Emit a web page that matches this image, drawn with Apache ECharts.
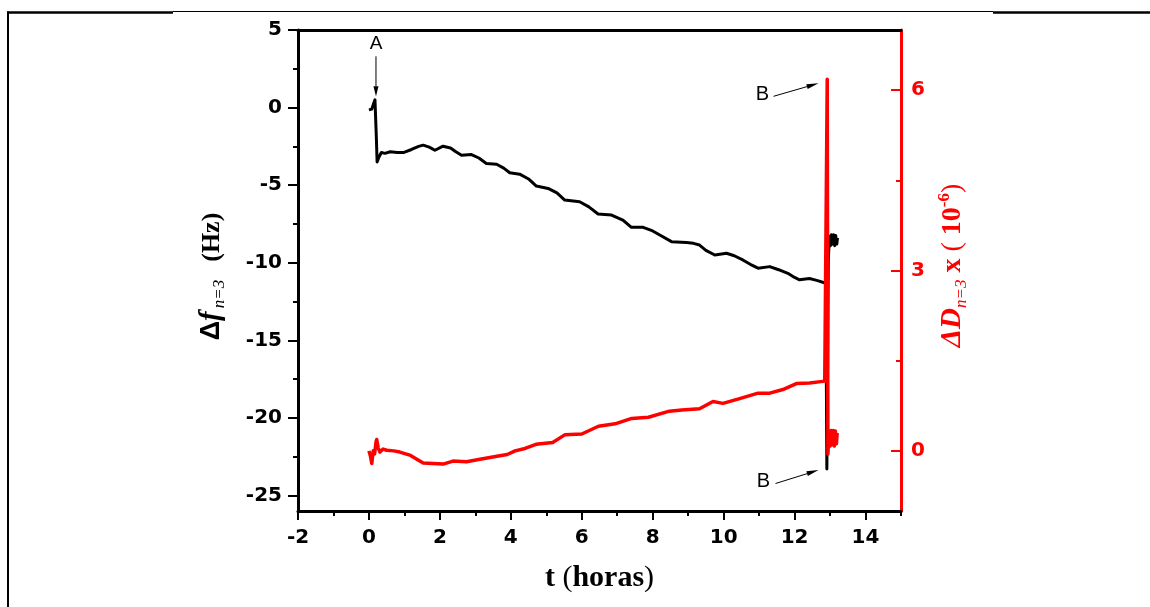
<!DOCTYPE html>
<html><head><meta charset="utf-8">
<script src="https://cdn.jsdelivr.net/npm/echarts@6/dist/echarts.min.js"></script>
<style>html,body{margin:0;padding:0;background:#fff}#c{width:1150px;height:607px}</style>
</head><body><div id="c"></div>
<script>
// ---- data ----
const timeF = [0.0,0.08,0.13,0.17,0.19,0.21,0.23,0.28,0.35,0.45,0.6,0.8,0.97,1.2,1.4,1.53,1.7,1.86,2.09,2.3,2.45,2.61,2.89,3.1,3.31,3.6,3.8,3.97,4.25,4.5,4.72,5.05,5.3,5.52,5.94,6.2,6.46,6.84,7.16,7.4,7.73,8.0,8.2,8.53,8.95,9.15,9.32,9.5,9.75,10.08,10.3,10.54,10.75,10.97,11.3,11.55,11.81,12.0,12.14,12.42,12.65,12.88,12.91,12.95,12.98,13.01,13.04,13.07,13.1,13.13,13.16,13.19,13.21];
const freqShift = [-0.15,-0.1,0.25,0.5,0.4,-2.0,-3.5,-3.2,-2.9,-2.95,-2.85,-2.9,-2.9,-2.7,-2.5,-2.42,-2.55,-2.75,-2.49,-2.6,-2.85,-3.07,-3.03,-3.25,-3.6,-3.65,-3.9,-4.2,-4.29,-4.6,-5.06,-5.21,-5.5,-5.96,-6.07,-6.4,-6.86,-6.93,-7.25,-7.72,-7.72,-7.95,-8.21,-8.64,-8.7,-8.75,-8.86,-9.2,-9.5,-9.39,-9.55,-9.82,-10.1,-10.35,-10.25,-10.45,-10.68,-10.95,-11.1,-11.02,-11.15,-11.32,-23.3,-9.9,-8.3,-8.9,-8.2,-8.8,-8.2,-8.9,-8.25,-8.8,-8.4];
const timeD = [0.0,0.04,0.08,0.12,0.16,0.2,0.22,0.26,0.31,0.4,0.5,0.7,0.87,1.15,1.35,1.53,1.8,2.09,2.37,2.75,3.13,3.41,3.65,3.9,4.12,4.4,4.71,5.18,5.53,6.0,6.47,6.94,7.41,7.88,8.47,8.82,9.32,9.7,9.98,10.45,10.97,11.3,11.67,12.05,12.42,12.85,12.9,12.92,12.94,12.97,13.0,13.03,13.06,13.09,13.12,13.15,13.18,13.2];
const dissipation = [0.0,-0.08,-0.21,0.0,-0.05,0.15,0.19,0.05,-0.02,0.03,0.01,0.0,-0.02,-0.07,-0.14,-0.2,-0.21,-0.22,-0.17,-0.18,-0.14,-0.11,-0.085,-0.06,0.0,0.04,0.11,0.14,0.27,0.28,0.41,0.45,0.54,0.56,0.66,0.68,0.7,0.82,0.79,0.87,0.96,0.96,1.02,1.12,1.13,1.16,1.16,6.18,-0.05,0.32,0.08,0.34,0.1,0.34,0.08,0.33,0.12,0.3];
const xTicks = [-2,0,2,4,6,8,10,12,14];
const xMinor = [-1,1,3,5,7,9,11,13,15];
const fTicks = [-25,-20,-15,-10,-5,0,5];
const fMinor = [-22.5,-17.5,-12.5,-7.5,-2.5,2.5];
const dTicks = [0,3,6];
const dMinor = [1.5,4.5];
const annotLabels = ['A','B','B'];
const annotTime = [0.17,12.92,12.92];
const annotValue = [0.5,6.18,-23.3];
const annotSeries = [0,1,0];

// ---- chart ----
const FONT = 'DejaVu Sans';
const RED = '#ff0000';
const chart = echarts.init(document.getElementById('c'), null, {renderer:'canvas'});
const fData = timeF.map((t,i)=>[t,freqShift[i]]);
const dData = timeD.map((t,i)=>[t,dissipation[i]]);
const noSplit = {show:false};
const lbl = (color)=>({color, fontFamily:FONT, fontWeight:'bold', fontSize:20});

chart.setOption({
  animation:false,
  backgroundColor:'#fff',
  grid:{left:298, right:249, top:30, bottom:96},
  xAxis:[
    {type:'value', position:'bottom', min:-2, max:15,
     axisLine:{show:true, onZero:false, lineStyle:{color:'#000', width:3}},
     axisTick:{show:true, customValues:xTicks, length:9, lineStyle:{color:'#000', width:2}},
     axisLabel:Object.assign({show:true, customValues:xTicks, margin:17}, lbl('#000')),
     splitLine:noSplit,
     name:'{b|t }{n|(}{b|horas}{n|)}', nameLocation:'middle', nameGap:51,
     nameTextStyle:{rich:{
       b:{fontFamily:'Liberation Serif', fontWeight:'bold', fontSize:30, color:'#000', lineHeight:32},
       n:{fontFamily:'Liberation Serif', fontWeight:'normal', fontSize:30, color:'#000', lineHeight:32}
     }}},
    {type:'value', position:'bottom', min:-2, max:15,
     axisLine:{show:false, onZero:false},
     axisTick:{show:true, customValues:xMinor, length:5, lineStyle:{color:'#000', width:2}},
     axisLabel:{show:false}, splitLine:noSplit},
    {type:'value', position:'top', min:-2, max:15,
     axisLine:{show:true, onZero:false, lineStyle:{color:'#000', width:3}},
     axisTick:{show:false}, axisLabel:{show:false}, splitLine:noSplit}
  ],
  yAxis:[
    {type:'value', position:'left', min:-26, max:5,
     axisLine:{show:true, onZero:false, lineStyle:{color:'#000', width:3}},
     axisTick:{show:true, customValues:fTicks, length:10, lineStyle:{color:'#000', width:2}},
     axisLabel:Object.assign({show:true, customValues:fTicks, margin:16}, lbl('#000')),
     splitLine:noSplit,
     name:'{d|Δ}{f|f}{s|n=3}{h|(Hz)}', nameLocation:'middle', nameGap:70, nameRotate:90,
     nameTextStyle:{padding:[0,12,0,0], rich:{
       d:{fontFamily:'Liberation Sans', fontWeight:'bold', fontSize:27, color:'#000', lineHeight:32},
       f:{fontFamily:'Liberation Serif', fontWeight:'bold', fontStyle:'italic', fontSize:29, color:'#000', lineHeight:32, padding:[0,3,0,0]},
       s:{fontFamily:'Liberation Serif', fontStyle:'italic', fontSize:17, color:'#000', lineHeight:16, verticalAlign:'bottom'},
       h:{fontFamily:'Liberation Serif', fontWeight:'bold', fontSize:26, color:'#000', lineHeight:32, padding:[0,0,0,18]}
     }}},
    {type:'value', position:'left', min:-26, max:5,
     axisLine:{show:false, onZero:false},
     axisTick:{show:true, customValues:fMinor, length:5, lineStyle:{color:'#000', width:2}},
     axisLabel:{show:false}, splitLine:noSplit},
    {type:'value', position:'right', min:-1, max:7,
     axisLine:{show:true, onZero:false, lineStyle:{color:RED, width:3}},
     axisTick:{show:true, inside:true, customValues:dTicks, length:10, lineStyle:{color:RED, width:2}},
     axisLabel:Object.assign({show:true, customValues:dTicks, margin:10}, lbl(RED)),
     splitLine:noSplit,
     name:'{d|ΔD}{s|n=3}{m| x }{p|( }{m|10}{u|-6}{p|)}', nameLocation:'middle', nameGap:29, nameRotate:90,
     nameTextStyle:{padding:[0,0,0,10], rich:{
       d:{fontFamily:'Liberation Serif', fontWeight:'bold', fontStyle:'italic', fontSize:29, color:RED, lineHeight:34},
       s:{fontFamily:'Liberation Serif', fontStyle:'italic', fontSize:17, color:RED, lineHeight:17, verticalAlign:'bottom'},
       m:{fontFamily:'Liberation Serif', fontWeight:'bold', fontSize:28, color:RED, lineHeight:34},
       p:{fontFamily:'Liberation Serif', fontWeight:'normal', fontSize:28, color:RED, lineHeight:34},
       u:{fontFamily:'Liberation Serif', fontWeight:'bold', fontSize:17, color:RED, lineHeight:17, verticalAlign:'top'}
     }}},
    {type:'value', position:'right', min:-1, max:7,
     axisLine:{show:false, onZero:false},
     axisTick:{show:true, inside:true, customValues:dMinor, length:5, lineStyle:{color:RED, width:2}},
     axisLabel:{show:false}, splitLine:noSplit}
  ],
  series:[
    {type:'line', xAxisIndex:0, yAxisIndex:0, data:fData, showSymbol:false, symbol:'none',
     lineStyle:{color:'#000', width:3, join:'round'}, z:3},
    {type:'line', xAxisIndex:0, yAxisIndex:2, data:dData, showSymbol:false, symbol:'none',
     lineStyle:{color:RED, width:3.5, join:'round'}, z:4}
  ]
});

// ---- annotations & page frame ----
function arrow(x1,y1,x2,y2,headLen,headW){
  const dx=x2-x1, dy=y2-y1, L=Math.hypot(dx,dy), ux=dx/L, uy=dy/L;
  const bx=x2-ux*headLen, by=y2-uy*headLen;
  return [
    {type:'line', shape:{x1,y1,x2:bx,y2:by}, style:{stroke:'#000', lineWidth:1}, z:10},
    {type:'polygon', shape:{points:[[x2,y2],[bx-uy*headW/2,by+ux*headW/2],[bx+uy*headW/2,by-ux*headW/2]]}, style:{fill:'#000'}, z:10}
  ];
}
const annotLayout = [
  {tip:[1,-3.5], from:[1,-43.5], text:[1,-56.5], size:19, head:10},
  {tip:[-8.7,4], from:[-53.7,17], text:[-64.7,15], size:20, head:12},
  {tip:[-8.7,1], from:[-51.7,14.4], text:[-63.7,12.4], size:20, head:12}
];
const g = [];
annotLabels.forEach((lab,i)=>{
  const p = chart.convertToPixel({seriesIndex:annotSeries[i]}, [annotTime[i], annotValue[i]]);
  const L = annotLayout[i];
  g.push(...arrow(p[0]+L.from[0], p[1]+L.from[1], p[0]+L.tip[0], p[1]+L.tip[1], L.head, 5));
  g.push({type:'text', x:p[0]+L.text[0], y:p[1]+L.text[1], z:10,
    style:{text:lab, fill:'#000', font:'normal '+L.size+'px "Liberation Sans"', textAlign:'center', textVerticalAlign:'middle'}});
});
// table border lines around the figure
g.push({type:'line', shape:{x1:7, y1:12.5, x2:173, y2:12.5}, style:{stroke:'#000', lineWidth:2.5}});
g.push({type:'line', shape:{x1:173, y1:11.5, x2:993, y2:11.5}, style:{stroke:'#000', lineWidth:1}});
g.push({type:'line', shape:{x1:993, y1:12.5, x2:1150, y2:12.5}, style:{stroke:'#000', lineWidth:2.5}});
g.push({type:'line', shape:{x1:8, y1:11.5, x2:8, y2:607}, style:{stroke:'#000', lineWidth:2}});
chart.setOption({graphic:g});
</script>
</body></html>
